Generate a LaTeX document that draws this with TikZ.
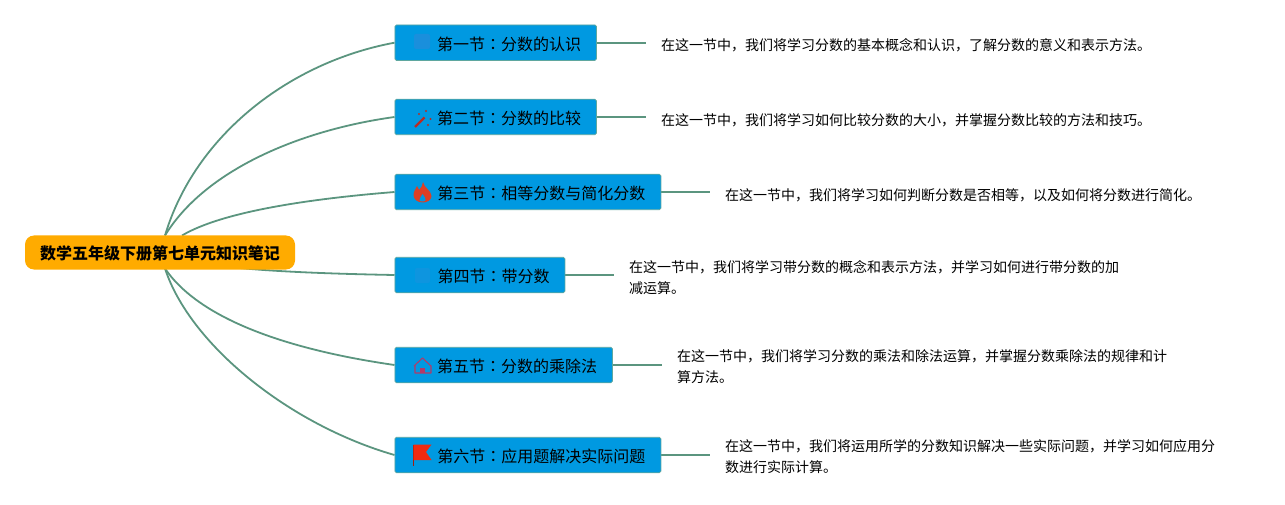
\documentclass[tikz,border=0pt]{standalone}
\usepackage{fontspec}
\setmainfont{Noto Sans CJK SC}
\newfontfamily\cjkjp{Noto Sans CJK JP}
\usetikzlibrary{backgrounds}
\definecolor{boxblue}{HTML}{0099E1}
\definecolor{boxedge}{HTML}{5FA79F}
\definecolor{rootorange}{HTML}{FFAB00}
\definecolor{linkgreen}{HTML}{5B957F}
\definecolor{iconred}{HTML}{D8342A}
\definecolor{flagred}{HTML}{F02A10}
\definecolor{houseviolet}{HTML}{B23A68}
\definecolor{fainta}{HTML}{1A8FDC}
\definecolor{faintb}{HTML}{0E95DF}
\newcommand{\cc}{{\cjkjp ：}}
\newcommand{\sectext}[1]{\raisebox{0pt}[15pt][0pt]{#1}\hspace*{12pt}}
\tikzset{
  x=1pt,y=-1pt,
  secbox/.style={draw=boxedge,line width=0.8pt,fill=boxblue,rounded corners=1.5pt,
    minimum height=35.5pt,inner sep=0pt,anchor=west,font=\fontsize{16pt}{18pt}\selectfont,text=black},
  rootbox/.style={fill=rootorange,rounded corners=9pt,minimum width=270pt,minimum height=34pt,
    inner sep=0pt,font=\fontsize{16pt}{18pt}\selectfont\bfseries,text=black},
  desc/.style={anchor=west,align=left,inner sep=0pt,font=\fontsize{14pt}{21pt}\selectfont,text=black},
  link/.style={draw=linkgreen,line width=1.8pt},
}
\begin{document}
\begin{tikzpicture}
\useasboundingbox (0,0) rectangle (1285,505);
\node[rootbox] (root) at (160,252.5) {\raisebox{0pt}[14pt][0pt]{数学五年级下册第七单元知识笔记}};
\coordinate (rt1) at (165,235.5);
\coordinate (rt3) at (182,235.5);
\coordinate (rb4) at (240,268);
\coordinate (rb5) at (165,268.5);

\node[secbox,minimum width=201.5pt,text width=195pt,align=right] (s1) at (394.5,42.7) {\sectext{第一节\cc 分数的认识}};
\node[secbox,minimum width=201.5pt,text width=195pt,align=right] (s2) at (394.5,117) {\sectext{第二节\cc 分数的比较}};
\node[secbox,minimum width=266pt,text width=259pt,align=right] (s3) at (394.5,192) {\sectext{第三节\cc 相等分数与简化分数}};
\node[secbox,minimum width=170pt,text width=163.5pt,align=right] (s4) at (394.5,275) {\sectext{第四节\cc 带分数}};
\node[secbox,minimum width=217.5pt,text width=211pt,align=right] (s5) at (394.5,365) {\sectext{第五节\cc 分数的乘除法}};
\node[secbox,minimum width=266pt,text width=259pt,align=right] (s6) at (394.5,455) {\sectext{第六节\cc 应用题解决实际问题}};

\node[desc] (d1) at (661,45) {在这一节中，我们将学习分数的基本概念和认识，了解分数的意义和表示方法。};
\node[desc] (d2) at (661,120) {在这一节中，我们将学习如何比较分数的大小，并掌握分数比较的方法和技巧。};
\node[desc] (d3) at (725,195) {在这一节中，我们将学习如何判断分数是否相等，以及如何将分数进行简化。};
\node[desc] (d4) at (629,277.5) {在这一节中，我们将学习带分数的概念和表示方法，并学习如何进行带分数的加\\减运算。};
\node[desc] (d5) at (677,367) {在这一节中，我们将学习分数的乘法和除法运算，并掌握分数乘除法的规律和计\\算方法。};
\node[desc] (d6) at (725,457) {在这一节中，我们将运用所学的分数知识解决一些实际问题，并学习如何应用分\\数进行实际计算。};

\coordinate (e1) at (646,42.7);
\coordinate (e2) at (646,117);
\coordinate (e3) at (710,192);
\coordinate (e4) at (614,275);
\coordinate (e5) at (662,365);
\coordinate (e6) at (710,455);

\begin{scope}[on background layer]
\draw[link] (rt1) .. controls (195,135) and (290,62) .. (s1.west);
\draw[link] (rt1) .. controls (205,170) and (300,130) .. (s2.west);
\draw[link] (rt3) .. controls (225,210) and (320,198) .. (s3.west);
\draw[link] (rb4) .. controls (280,272) and (340,274) .. (s4.west);
\draw[link] (rb5) .. controls (200,320) and (290,350) .. (s5.west);
\draw[link] (rb5) .. controls (190,345) and (290,425) .. (s6.west);
\draw[link] (s1.east) -- (e1);
\draw[link] (s2.east) -- (e2);
\draw[link] (s3.east) -- (e3);
\draw[link] (s4.east) -- (e4);
\draw[link] (s5.east) -- (e5);
\draw[link] (s6.east) -- (e6);
\end{scope}

% icons 1 and 4 (nearly blue on blue)
\fill[fainta,rounded corners=2pt] (414,34) rectangle (430,49);
\fill[faintb,rounded corners=2pt] (415,268) rectangle (430,283);
% wand
\draw[iconred!85!black,line width=2.4pt] (415,127) -- (424.5,117.5);
\fill[iconred!85!black] (426,111) circle (1.2) (430.5,119) circle (1.1) (419,114) circle (1.1) (428,125) circle (1.1);
% flame
\fill[iconred!85!orange] (423,182) .. controls (424,188) and (431,190) .. (431.5,196)
  .. controls (431.5,200) and (427,202.5) .. (423,202.5)
  .. controls (417,202.5) and (413.5,199) .. (413.5,195)
  .. controls (413.5,191) and (416,189) .. (417,186)
  .. controls (418,187) and (418.5,189) .. (419,190)
  .. controls (421,188) and (423,185) .. (423,182) -- cycle;
\fill[boxblue] (422.5,194) .. controls (424.5,196.5) and (426,198.5) .. (425.5,200)
  .. controls (425,202) and (420,202) .. (419.5,200)
  .. controls (419,198.5) and (421.5,196.5) .. (422.5,194) -- cycle;
% house
\draw[houseviolet,line width=1.1pt,line join=round] (414,366) -- (422.5,358) -- (431,366) -- (431,373) -- (415,373) -- (415,365.5);
\fill[houseviolet] (420,368) rectangle (425,373);
% flag
\draw[flagred!70!black,line width=0.8pt] (413.5,444.5) -- (413.5,466);
\fill[flagred] (413.5,444.5) -- (431.5,444.5) -- (426,452) -- (431.5,460) -- (413.5,460) -- cycle;
\end{tikzpicture}
\end{document}
